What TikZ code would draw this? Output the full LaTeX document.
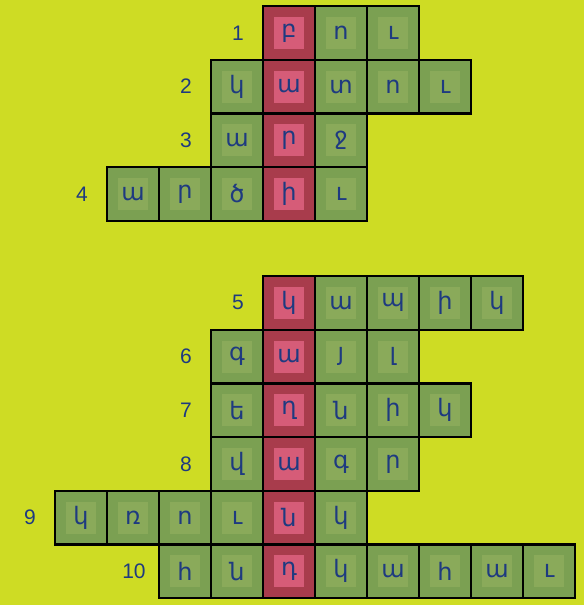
\documentclass[tikz,border=0pt]{standalone}
\usepackage{fontspec}
\setmainfont{Liberation Sans}
\newfontfamily\armfont{DejaVu Sans}
\usetikzlibrary{positioning}

\definecolor{bgyellow}{RGB}{206,220,36}
\definecolor{cellgreen}{RGB}{123,160,82}
\definecolor{innergreen}{RGB}{138,170,90}
\definecolor{cellred}{RGB}{168,60,76}
\definecolor{innerred}{RGB}{214,92,120}
\definecolor{inkblue}{RGB}{30,58,128}

% one word of the puzzle: row number, top edge, first column, letters
\newcommand\wordrow[4]{%
  \node[numN] (n#1) at ({30+52*#3}, {#2+26.85}) {#1};
  \foreach \ch [count=\i] in {#4} {
    \pgfmathtruncatemacro\k{#3+\i-1}
    \ifnum\k=4
      \tikzset{outerN/.style={cellN,fill=cellred}, innerN/.style={boxN,fill=innerred}}
    \else
      \tikzset{outerN/.style={cellN,fill=cellgreen}, innerN/.style={boxN,fill=innergreen}}
    \fi
    \node[outerN] (c#1-\i) at ({81+52*\k}, {#2+26.85}) {};
    \node[innerN] (l#1-\i) at (c#1-\i.center) {\ch};
  }%
}

\begin{document}
\begin{tikzpicture}
  [x=1pt,y=-1pt,
   cellN/.style={rectangle,draw=black,line width=2.4pt,minimum width=52pt,
     minimum height=53.7pt,inner sep=0pt},
   boxN/.style={rectangle,minimum width=30pt,minimum height=32pt,inner sep=0pt,
     text=inkblue,font=\armfont\fontsize{24}{24}\selectfont},
   numN/.style={text=inkblue,font=\fontsize{21}{21}\selectfont}]

  \path[use as bounding box,fill=bgyellow] (0,0) rectangle (584,605);

  \wordrow{1}{6}{4}{բ,ո,ւ}
  \wordrow{2}{59.7}{3}{կ,ա,տ,ո,ւ}
  \wordrow{3}{113.4}{3}{ա,ր,ջ}
  \wordrow{4}{167.1}{1}{ա,ր,ծ,ի,ւ}

  \wordrow{5}{276}{4}{կ,ա,պ,ի,կ}
  \wordrow{6}{329.7}{3}{գ,ա,յ,լ}
  \wordrow{7}{383.4}{3}{ե,ղ,ն,ի,կ}
  \wordrow{8}{437.1}{3}{վ,ա,գ,ր}
  \wordrow{9}{490.8}{0}{կ,ռ,ո,ւ,ն,կ}
  \wordrow{10}{544.5}{2}{հ,ն,դ,կ,ա,հ,ա,ւ}

\end{tikzpicture}
\end{document}
